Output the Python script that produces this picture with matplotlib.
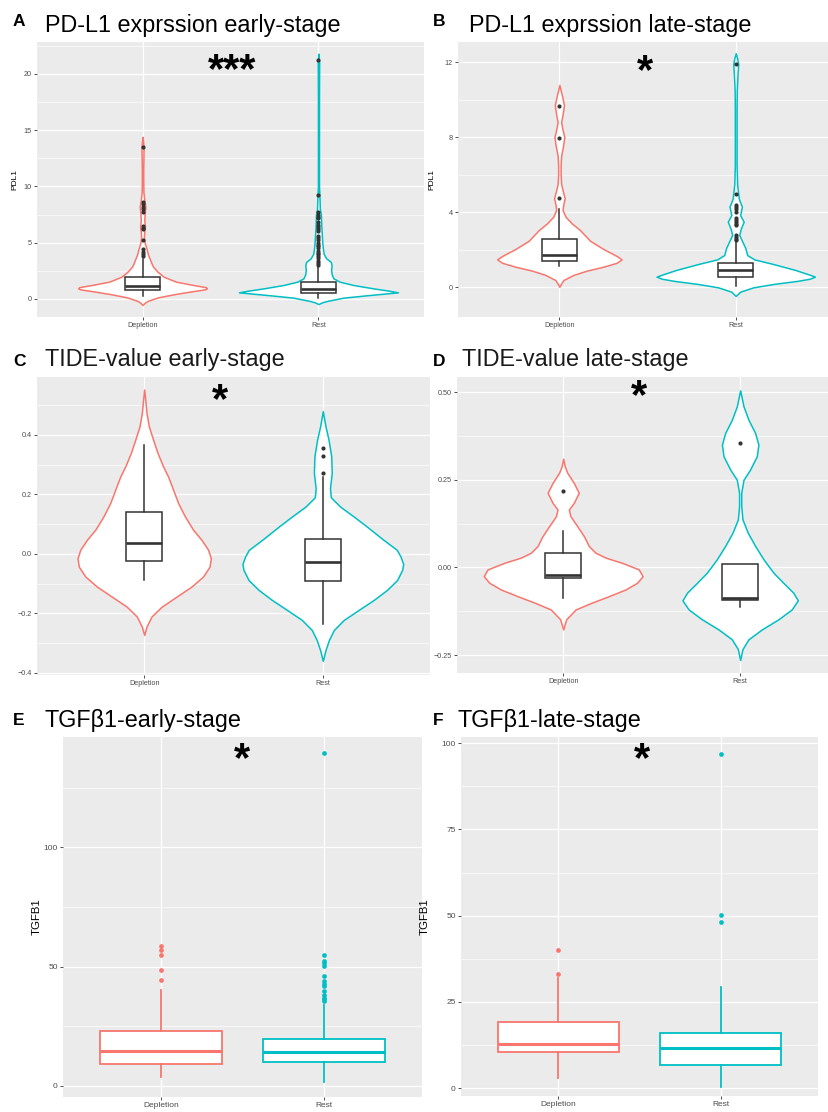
import matplotlib
matplotlib.use('Agg')
import matplotlib.pyplot as plt
import numpy as np

plt.rcParams['font.family'] = ['Liberation Sans', 'DejaVu Sans']

W, H, DPI = 829, 1112, 100
RED = '#F8766D'
CYAN = '#00BFC4'
categories = ['Depletion', 'Rest']

# ---------------- Panel A : PD-L1 early ----------------
a_dep_box = dict(whislo=0.27, q1=0.84, med=1.16, q3=1.93, whishi=3.55)
a_dep_out = [13.5, 8.6, 8.4, 8.2, 8.0, 7.7, 6.5, 6.3, 6.2, 5.2, 4.4, 4.2, 4.0, 3.8]
a_rest_box = dict(whislo=0.05, q1=0.52, med=0.85, q3=1.47, whishi=2.9)
a_rest_out = [21.2, 9.2, 7.7, 7.5, 7.3, 7.2, 6.8, 6.6, 6.4, 6.2, 6.0, 5.6, 5.4, 5.2,
              5.0, 4.8, 4.7, 4.5, 4.3, 4.1, 4.0, 3.8, 3.6, 3.4, 3.2, 3.0]
a_dep_vy = [-0.53, -0.3, -0.15, 0.15, 0.44, 0.68, 0.86, 0.95, 1.05, 1.24, 1.54, 1.98, 2.43,
            2.87, 3.2, 3.6, 4.0, 4.5, 5.0, 5.5, 6.0, 6.4, 7.0, 7.6, 8.2, 8.8, 9.5, 10.5,
            11.5, 12.5, 13.5, 14.0, 14.4]
a_dep_vw = [0, 0.015, 0.032, 0.089, 0.184, 0.279, 0.355, 0.366, 0.36, 0.29, 0.19, 0.12, 0.085,
            0.06, 0.05, 0.04, 0.03, 0.022, 0.012, 0.008, 0.01, 0.014, 0.01, 0.012, 0.016, 0.01,
            0.005, 0.004, 0.004, 0.005, 0.006, 0.003, 0]
a_rest_vy = [-0.45, -0.3, -0.18, 0.12, 0.33, 0.5, 0.59, 0.74, 0.95, 1.24, 1.54, 1.84, 2.2, 2.6,
             3.0, 3.3, 3.6, 4.0, 4.5, 5.0, 5.5, 6.0, 6.5, 7.0, 7.5, 8.0, 9.0, 10, 12, 15, 18,
             21, 21.8]
a_rest_vw = [0, 0.02, 0.047, 0.142, 0.275, 0.39, 0.452, 0.40, 0.31, 0.20, 0.12, 0.085, 0.075,
             0.072, 0.075, 0.07, 0.045, 0.03, 0.025, 0.022, 0.02, 0.018, 0.016, 0.015, 0.014,
             0.008, 0.006, 0.003, 0.003, 0.003, 0.003, 0.004, 0]

# ---------------- Panel B : PD-L1 late ----------------
b_dep_box = dict(whislo=1.13, q1=1.42, med=1.7, q3=2.57, whishi=4.17)
b_dep_out = [9.66, 7.97, 4.76]
b_rest_box = dict(whislo=0.07, q1=0.53, med=0.92, q3=1.31, whishi=2.43)
b_rest_out = [11.9, 4.95, 4.4, 4.3, 4.2, 4.0, 3.7, 3.6, 3.5, 3.4, 3.3, 2.8, 2.7, 2.6, 2.5]
b_dep_vy = [0.03, 0.2, 0.39, 0.66, 0.89, 1.1, 1.31, 1.49, 1.67, 2.04, 2.48, 3.05, 3.41, 3.76,
            4.12, 4.4, 4.75, 5.1, 5.5, 6.0, 6.5, 7.0, 7.5, 8.0, 8.4, 8.8, 9.2, 9.7, 10.2, 10.5,
            10.78]
b_dep_vw = [0, 0.01, 0.023, 0.079, 0.155, 0.25, 0.325, 0.353, 0.325, 0.25, 0.174, 0.117, 0.07,
            0.035, 0.018, 0.022, 0.03, 0.02, 0.01, 0.007, 0.007, 0.01, 0.02, 0.028, 0.018, 0.01,
            0.018, 0.026, 0.015, 0.007, 0]
b_rest_vy = [-0.46, -0.35, -0.23, 0.0, 0.18, 0.34, 0.46, 0.57, 0.67, 0.92, 1.24, 1.49, 1.72,
             2.08, 2.43, 2.79, 3.1, 3.5, 3.85, 4.3, 4.7, 5.0, 5.5, 6.5, 8, 9.5, 10.5, 11.3, 11.9,
             12.2, 12.47]
b_rest_vw = [0, 0.012, 0.025, 0.1, 0.214, 0.346, 0.42, 0.449, 0.42, 0.34, 0.214, 0.105, 0.065,
             0.055, 0.038, 0.02, 0.028, 0.045, 0.025, 0.035, 0.018, 0.014, 0.008, 0.005, 0.005,
             0.005, 0.006, 0.01, 0.014, 0.008, 0]

# ---------------- Panel C : TIDE early ----------------
c_dep_box = dict(whislo=-0.0876, q1=-0.0236, med=0.035, q3=0.1416, whishi=0.367)
c_dep_out = []
c_rest_box = dict(whislo=-0.237, q1=-0.09, med=-0.027, q3=0.0506, whishi=0.258)
c_rest_out = [0.356, 0.329, 0.272]
c_dep_vy = [-0.273, -0.245, -0.211, -0.178, -0.144, -0.11, -0.076, -0.043, -0.015, 0.0135,
            0.047, 0.081, 0.126, 0.171, 0.216, 0.26, 0.294, 0.339, 0.384, 0.429, 0.474, 0.519,
            0.553]
c_dep_vw = [0, 0.013, 0.041, 0.097, 0.181, 0.265, 0.33, 0.366, 0.373, 0.358, 0.321, 0.274,
            0.228, 0.19, 0.162, 0.134, 0.106, 0.075, 0.05, 0.026, 0.013, 0.006, 0]
c_rest_vy = [-0.36, -0.324, -0.29, -0.256, -0.222, -0.189, -0.155, -0.121, -0.088, -0.054,
             -0.034, -0.009, 0.0135, 0.047, 0.092, 0.126, 0.159, 0.19, 0.22, 0.272, 0.328,
             0.384, 0.429, 0.48]
c_rest_vw = [0, 0.015, 0.034, 0.062, 0.118, 0.2, 0.285, 0.36, 0.416, 0.444, 0.45, 0.435, 0.414,
             0.34, 0.246, 0.172, 0.097, 0.045, 0.04, 0.05, 0.047, 0.032, 0.015, 0]

# ---------------- Panel D : TIDE late ----------------
d_dep_box = dict(whislo=-0.086, q1=-0.031, med=-0.021, q3=0.04, whishi=0.103)
d_dep_out = [0.217]
d_rest_box = dict(whislo=-0.113, q1=-0.094, med=-0.088, q3=0.0085, whishi=0.0085)
d_rest_out = [0.354]
d_dep_vy = [-0.177, -0.148, -0.12, -0.1, -0.082, -0.063, -0.044, -0.025, -0.0057, 0.013, 0.028,
            0.042, 0.061, 0.089, 0.118, 0.146, 0.165, 0.184, 0.213, 0.241, 0.27, 0.288, 0.31]
d_dep_vw = [0, 0.017, 0.07, 0.164, 0.258, 0.352, 0.417, 0.449, 0.427, 0.333, 0.239, 0.182,
            0.145, 0.117, 0.079, 0.041, 0.032, 0.06, 0.088, 0.06, 0.023, 0.009, 0]
d_rest_vy = [-0.264, -0.233, -0.205, -0.177, -0.148, -0.12, -0.094, -0.072, -0.044, -0.015,
             0.023, 0.061, 0.099, 0.137, 0.175, 0.213, 0.25, 0.279, 0.317, 0.35, 0.383, 0.421,
             0.459, 0.505]
d_rest_vw = [0, 0.013, 0.047, 0.122, 0.216, 0.291, 0.326, 0.3, 0.244, 0.188, 0.132, 0.085,
             0.043, 0.013, 0.006, 0.006, 0.019, 0.056, 0.094, 0.103, 0.085, 0.047, 0.019, 0]

# ---------------- Panel E : TGFB1 early ----------------
e_dep_box = dict(whislo=3.5, q1=9.23, med=14.8, q3=22.8, whishi=40.3)
e_dep_out = [58.7, 56.8, 55.0, 48.4, 44.3]
e_rest_box = dict(whislo=1.8, q1=9.9, med=14.3, q3=19.7, whishi=34.0)
e_rest_out = [139.5, 55.0, 52.2, 51.4, 50.3, 45.9, 43.8, 42.8, 41.7, 39.6, 38.2, 37.0, 36.2, 35.4]

# ---------------- Panel F : TGFB1 late ----------------
f_dep_box = dict(whislo=2.8, q1=10.35, med=12.86, q3=19.15, whishi=32.0)
f_dep_out = [39.95, 33.0]
f_rest_box = dict(whislo=0.39, q1=6.67, med=11.5, q3=15.96, whishi=29.4)
f_rest_out = [96.9, 50.1, 48.3]

fig = plt.figure(figsize=(W / DPI, H / DPI), dpi=DPI)
fig.patch.set_facecolor('white')


def add_panel(left, top, right, bottom):
    return fig.add_axes([left / W, 1 - bottom / H, (right - left) / W, (bottom - top) / H])


def style(ax, xlim, ylim, major, labels, minor, fs):
    ax.set_facecolor('#EBEBEB')
    for s in ax.spines.values():
        s.set_visible(False)
    ax.set_xlim(*xlim)
    ax.set_ylim(*ylim)
    ax.set_xticks([1, 2])
    ax.set_xticklabels(categories)
    ax.set_yticks(major)
    ax.set_yticklabels(labels)
    ax.set_yticks(minor, minor=True)
    ax.grid(which='major', color='white', lw=0.9)
    ax.grid(which='minor', axis='y', color='white', lw=0.45)
    ax.set_axisbelow(True)
    ax.tick_params(which='major', length=2.2, width=0.6, color='#333333',
                   labelsize=fs, labelcolor='#4D4D4D', pad=1.5)
    ax.tick_params(which='minor', length=0)


def violin(ax, pos, vy, vw, color):
    vy = np.asarray(vy, float)
    vw = np.asarray(vw, float)
    ax.fill_betweenx(vy, pos - vw, pos + vw, facecolor='white', edgecolor=color,
                     lw=1.1, zorder=2)


def box(ax, pos, stats, fliers, ec, fc, width, lw, mlw, ms):
    st = dict(stats)
    st['fliers'] = np.asarray(fliers, float)
    ax.bxp([st], positions=[pos], widths=width, patch_artist=True, showcaps=False,
           showfliers=True, manage_ticks=False, zorder=3,
           boxprops=dict(facecolor='white', edgecolor=ec, linewidth=lw),
           medianprops=dict(color=ec, linewidth=mlw, solid_capstyle='butt'),
           whiskerprops=dict(color=ec, linewidth=lw),
           flierprops=dict(marker='o', markerfacecolor=fc, markeredgecolor='none',
                           markersize=ms, linestyle='none'))


def fig_text(x, y, s, **kw):
    fig.text(x / W, 1 - y / H, s, **kw)


DARK = '#333333'

# ---- A
axA = add_panel(37, 42, 424, 317)
style(axA, (0.4, 2.6), (-1.6, 22.84), [0, 5, 10, 15, 20], ['0', '5', '10', '15', '20'],
      [2.5, 7.5, 12.5, 17.5, 22.5], 5.2)
violin(axA, 1, a_dep_vy, a_dep_vw, RED)
violin(axA, 2, a_rest_vy, a_rest_vw, CYAN)
box(axA, 1, a_dep_box, a_dep_out, DARK, DARK, 0.2, 1.1, 1.9, 3.0)
box(axA, 2, a_rest_box, a_rest_out, DARK, DARK, 0.2, 1.1, 1.9, 3.0)
axA.set_ylabel('PDL1', fontsize=6, color='black')
axA.yaxis.set_label_coords(-0.049, 0.5)

# ---- B
axB = add_panel(458, 42, 829, 317)
style(axB, (0.425, 2.529), (-1.58, 13.07), [0, 4, 8, 12], ['0', '4', '8', '12'],
      [2, 6, 10], 5.2)
violin(axB, 1, b_dep_vy, b_dep_vw, RED)
violin(axB, 2, b_rest_vy, b_rest_vw, CYAN)
box(axB, 1, b_dep_box, b_dep_out, DARK, DARK, 0.2, 1.1, 1.9, 3.0)
box(axB, 2, b_rest_box, b_rest_out, DARK, DARK, 0.2, 1.1, 1.9, 3.0)
axB.set_ylabel('PDL1', fontsize=6, color='black')
axB.yaxis.set_label_coords(-0.062, 0.5)

# ---- C
axC = add_panel(37, 377, 430, 674.5)
style(axC, (0.4, 2.6), (-0.406, 0.595), [-0.4, -0.2, 0.0, 0.2, 0.4],
      ['\u22120.4', '\u22120.2', '0.0', '0.2', '0.4'], [-0.3, -0.1, 0.1, 0.3, 0.5], 5.2)
violin(axC, 1, c_dep_vy, c_dep_vw, RED)
violin(axC, 2, c_rest_vy, c_rest_vw, CYAN)
box(axC, 1, c_dep_box, c_dep_out, DARK, DARK, 0.2, 1.1, 1.9, 3.0)
box(axC, 2, c_rest_box, c_rest_out, DARK, DARK, 0.2, 1.1, 1.9, 3.0)

# ---- D
axD = add_panel(457, 377, 829, 673.3)
style(axD, (0.4, 2.502), (-0.302, 0.543), [-0.25, 0.0, 0.25, 0.5],
      ['\u22120.25', '0.00', '0.25', '0.50'], [-0.125, 0.125, 0.375], 5.2)
violin(axD, 1, d_dep_vy, d_dep_vw, RED)
violin(axD, 2, d_rest_vy, d_rest_vw, CYAN)
box(axD, 1, d_dep_box, d_dep_out, DARK, DARK, 0.2, 1.1, 1.9, 3.0)
box(axD, 2, d_rest_box, d_rest_out, DARK, DARK, 0.2, 1.1, 1.9, 3.0)

# ---- E
axE = add_panel(63, 737, 422, 1097)
style(axE, (0.4, 2.6), (-4.7, 146.3), [0, 50, 100], ['0', '50', '100'], [25, 75, 125], 6.0)
box(axE, 1, e_dep_box, e_dep_out, RED, RED, 0.75, 1.3, 2.2, 3.4)
box(axE, 2, e_rest_box, e_rest_out, CYAN, CYAN, 0.75, 1.3, 2.2, 3.4)
axE.set_ylabel('TGFB1', fontsize=8.2, color='black')
axE.yaxis.set_label_coords(-0.0585, 0.5)

# ---- F
axF = add_panel(461, 737, 818, 1096)
style(axF, (0.4, 2.6), (-2.3, 101.8), [0, 25, 50, 75, 100], ['0', '25', '50', '75', '100'],
      [12.5, 37.5, 62.5, 87.5], 6.0)
box(axF, 1, f_dep_box, f_dep_out, RED, RED, 0.75, 1.3, 2.2, 3.4)
box(axF, 2, f_rest_box, f_rest_out, CYAN, CYAN, 0.75, 1.3, 2.2, 3.4)
axF.set_ylabel('TGFB1', fontsize=8.2, color='black')
axF.yaxis.set_label_coords(-0.087, 0.5)

# ---- titles, panel letters, significance marks
TFS = 16.8
LFS = 12.5
fig_text(13, 26, 'A', fontsize=LFS, fontweight='bold', va='baseline')
fig_text(45, 31.7, 'PD-L1 exprssion early-stage', fontsize=TFS, va='baseline')
fig_text(433, 26, 'B', fontsize=LFS, fontweight='bold', va='baseline')
fig_text(469, 31.7, 'PD-L1 exprssion late-stage', fontsize=TFS, va='baseline')
fig_text(13, 366, 'C', fontsize=LFS, fontweight='bold', va='baseline')
fig_text(45, 366, 'TIDE-value early-stage', fontsize=TFS, va='baseline', color='#1a1a1a')
fig_text(433, 366, 'D', fontsize=LFS, fontweight='bold', va='baseline')
fig_text(462, 366, 'TIDE-value late-stage', fontsize=TFS, va='baseline', color='#1a1a1a')
fig_text(13, 725, 'E', fontsize=LFS, fontweight='bold', va='baseline')
fig_text(45, 726.7, 'TGF\u03b21-early-stage', fontsize=TFS, va='baseline')
fig_text(433, 725, 'F', fontsize=LFS, fontweight='bold', va='baseline')
fig_text(458, 726.7, 'TGF\u03b21-late-stage', fontsize=TFS, va='baseline')

SFS = 30
DY = 7
fig_text(232, 64 + DY, '***', fontsize=SFS, fontweight='bold', ha='center', va='center')
fig_text(645, 65 + DY, '*', fontsize=SFS, fontweight='bold', ha='center', va='center')
fig_text(220, 394 + DY, '*', fontsize=SFS, fontweight='bold', ha='center', va='center')
fig_text(639, 390 + DY, '*', fontsize=SFS, fontweight='bold', ha='center', va='center')
fig_text(242, 753 + DY, '*', fontsize=SFS, fontweight='bold', ha='center', va='center')
fig_text(642, 753 + DY, '*', fontsize=SFS, fontweight='bold', ha='center', va='center')

fig.savefig('out.png', dpi=DPI)
